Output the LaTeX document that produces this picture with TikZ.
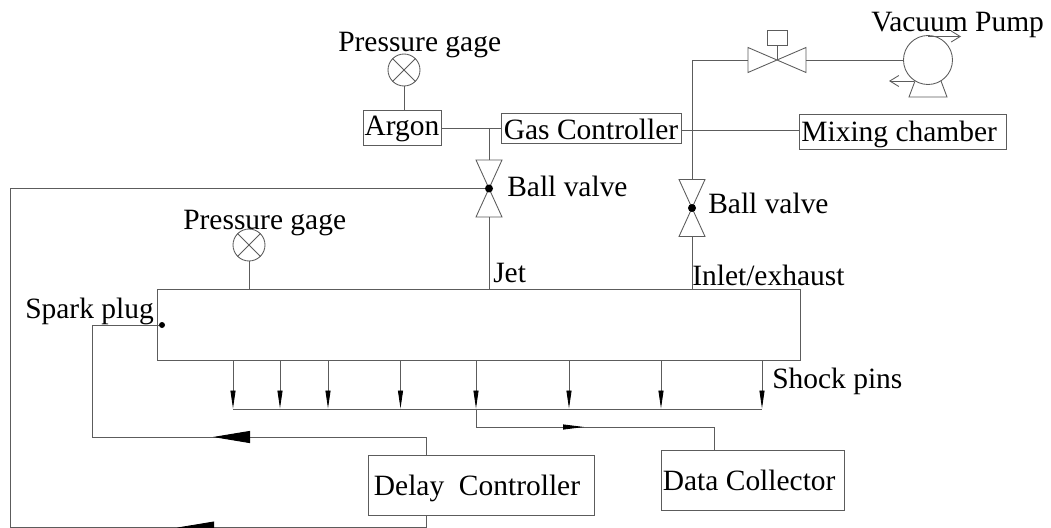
\documentclass[tikz,border=0pt]{standalone}
\usepackage{fontspec}
\setmainfont{Liberation Serif}
\usetikzlibrary{arrows.meta, positioning, calc}
\definecolor{LineGray}{rgb}{0.36, 0.36, 0.36}
\def\px{0.75pt}
\tikzset{
    tube/.style={LineGray, line width=0.65pt},
    boxnode/.style={draw=LineGray, line width=0.65pt, inner sep=0pt, font=\fontsize{22.1}{24}\selectfont, text depth=0pt, text height=#1*\px},
    gaugenode/.style={draw=LineGray, line width=0.65pt, circle, inner sep=0pt, minimum size=32*\px},
    labelnode/.style={inner sep=0pt, anchor=base west, font=\fontsize{22.1}{24}\selectfont},
    dotnode/.style={fill=black, circle, inner sep=0pt},
    bigtip/.style={tube, -{Triangle[black, length=37*\px, width=12*\px]}},
    pintip/.style={tube, -{Triangle[black, length=18*\px, width=5*\px]}},
    datatip/.style={tube, -{Triangle[black, length=21*\px, width=5*\px]}},
    barbtip/.style={tube, -{Straight Barb[length=9*\px, width=11*\px]}}
}

\begin{document}
\begin{tikzpicture}[x=\px, y=-\px]

\clip (0,0) rectangle (1051,528);
\path[use as bounding box] (0,0) rectangle (1051,528);

% cajas
\node[boxnode=17, minimum width=78*\px, minimum height=35*\px] (argon) at (402,127.5) {Argon};
\node[boxnode=24, minimum width=180*\px, minimum height=30*\px] (gas) at (591,128) {Gas Controller};
\node[boxnode=20, minimum width=207*\px, minimum height=35*\px] (mixing) at (902.5,131.5) {Mixing chamber\kern5pt};
\node[boxnode=1, minimum width=642.5*\px, minimum height=70.5*\px] (chamber) at (478.75,325) {};
\node[boxnode=20, minimum width=226*\px, minimum height=60*\px] (delay) at (481,485) {Delay\ \ Controller\kern6pt};
\node[boxnode=20, minimum width=183*\px, minimum height=60*\px] (data) at (752.5,480) {Data Collector\kern5pt};

% textos
\node[labelnode] (gagetopt) at (338,52) {Pressure gage};
\node[labelnode] (gagelowt) at (183,229) {Pressure gage};
\node[labelnode] (balljett) at (507,196) {Ball valve};
\node[labelnode] (ballinlt) at (708,214) {Ball valve};
\node[labelnode] (jett) at (493,282) {Jet};
\node[labelnode] (inlett) at (692,285) {Inlet/exhaust};
\node[labelnode] (sparkt) at (25,318) {Spark plug};
\node[labelnode] (shockt) at (772,388) {Shock pins};
\node[labelnode] (vacuumt) at (871,32) {Vacuum Pump};

% manometros
\foreach \n/\x/\y in {gagetop/404/70, gagelow/249/245}{
    \node[gaugenode] (\n) at (\x,\y) {};
    \draw[tube] (\n.north west) -- (\n.south east);
    \draw[tube] (\n.north east) -- (\n.south west);
}
\draw[tube] (gagetop.south) -- (gagetop.south |- argon.north);
\draw[tube] (gagelow.south) -- (gagelow.south |- chamber.north);

% valvulas de bola
\foreach \n/\x/\y in {balljet/489/188.5, ballinl/692/208}{
    \coordinate (\n) at (\x,\y);
    \coordinate (\n-top) at (\x,\y-28.5);
    \coordinate (\n-bot) at (\x,\y+28.5);
    \draw[tube] ($(\n-top)+(-13,0)$) -- ($(\n-top)+(13,0)$) -- ($(\n-bot)+(-13,0)$) -- ($(\n-bot)+(13,0)$) -- cycle;
    \node[dotnode, minimum size=8*\px] (\n-dot) at (\n) {};
}

% lineas de gas
\coordinate (gasjoint) at (489,128);
\coordinate (gasout) at (681,130);
\coordinate (mixin) at (799,130);
\draw[tube] (argon.east |- gasjoint) -- (gas.west |- gasjoint);
\draw[tube] (gasjoint) -- (balljet-top);
\draw[tube] (balljet-bot) -- (balljet-bot |- chamber.north);
\draw[tube] (gasout) -- (mixin);
\draw[tube] (ballinl-bot) -- (ballinl-bot |- chamber.north);

% valvula de control
\coordinate (ctrl) at (777,60);
\coordinate (ctrlleft) at (748,60);
\coordinate (ctrlright) at (806,60);
\node[draw=LineGray, line width=0.65pt, inner sep=0pt, minimum width=20*\px, minimum height=15*\px] (actuator) at (777,37.5) {};
\draw[tube] (actuator) -- (ctrl);
\draw[tube] (748,47.5) -- (806,72.5) -- (806,47.5) -- (748,72.5) -- cycle;
\draw[tube] (ballinl-top) |- (ctrlleft);

% bomba
\node[draw=LineGray, line width=0.65pt, circle, inner sep=0pt, minimum size=49*\px] (pump) at (928,60) {};
\draw[tube] (ctrlright) -- (pump.west);
\coordinate (pumpout) at (961,36.5);
\coordinate (pumpin) at (889,81);
\draw[barbtip] (pump.north |- pumpout) -- (pumpout);
\draw[barbtip] (914,81) -- (pumpin);
\draw[tube] (915,81) -- (909,97) -- (947,97) -- (941,81);

% pines
\coordinate (busleft) at (233,409);
\coordinate (busright) at (762,409);
\draw[tube] (busleft) -- (busright);
\foreach \i/\x in {1/233, 2/280, 3/328, 4/400.5, 5/476, 6/569, 7/661, 8/762}{
    \coordinate (pin\i) at (\x,408.5);
    \draw[pintip] (chamber.south -| pin\i) -- (pin\i);
}

% colector de datos
\coordinate (datacorner) at (476,427);
\coordinate (datatipend) at (584,427);
\coordinate (databend) at (714,427);
\draw[tube] (pin5) -- (datacorner) -- (databend) -- (databend |- data.north);
\draw[datatip] (datacorner) -- (datatipend);

% senal de chispa
\coordinate (delayup) at (426,437);
\coordinate (delaytip) at (213,437);
\coordinate (sparkbend) at (92,437);
\node[dotnode, minimum size=6*\px] (spark) at (162,325) {};
\draw[tube] (delay.north -| delayup) -- (delayup) -- (sparkbend) |- (spark);
\draw[bigtip] (delayup) -- (delaytip);

% senal de jet
\coordinate (delaydown) at (426,527.6);
\coordinate (jettip) at (177,527.6);
\coordinate (jetcorner) at (10,527.6);
\draw[tube] (delay.south -| delaydown) -- (delaydown) -- (jetcorner) |- (balljet-dot);
\draw[bigtip] (delaydown) -- (jettip);

\end{tikzpicture}
\end{document}
